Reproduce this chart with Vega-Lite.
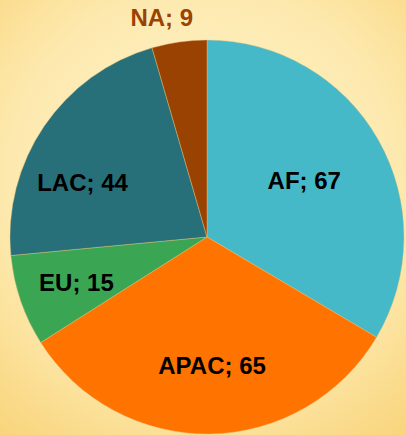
{
  "$schema": "https://vega.github.io/schema/vega-lite/v6.json",
  "width": 406,
  "height": 435,
  "autosize": {"type": "none"},
  "padding": 0,
  "background": "#FBE29F",
  "config": {
    "view": {"stroke": null},
    "text": {"font": "Liberation Sans", "fontWeight": "bold", "fontSize": 24}
  },
  "view": {
    "fill": {
      "gradient": "radial",
      "x1": 0.5, "y1": 0.42, "r1": 0,
      "x2": 0.5, "y2": 0.42, "r2": 0.75,
      "stops": [
        {"offset": 0, "color": "#FFF5D2"},
        {"offset": 0.6, "color": "#FDE9AE"},
        {"offset": 1, "color": "#F9D47A"}
      ]
    },
    "stroke": null
  },
  "data": {
    "values": [
      {"region": "AF", "value": 67, "label": "AF; 67"},
      {"region": "APAC", "value": 65, "label": "APAC; 65"},
      {"region": "EU", "value": 15, "label": "EU; 15"},
      {"region": "LAC", "value": 44, "label": "LAC; 44"},
      {"region": "NA", "value": 9, "label": "NA; 9"}
    ]
  },
  "encoding": {
    "theta": {"field": "value", "type": "quantitative", "stack": true},
    "order": {"field": "region", "type": "nominal"}
  },
  "layer": [
    {
      "mark": {"type": "arc", "x": 207, "y": 237, "outerRadius": 197, "stroke": "#E8C27A", "strokeWidth": 0.4},
      "encoding": {
        "color": {
          "field": "region", "type": "nominal",
          "scale": {"domain": ["AF", "APAC", "EU", "LAC", "NA"], "range": ["#45B9C7", "#FF7300", "#3AA654", "#277079", "#9A4202"]},
          "legend": null
        }
      }
    },
    {
      "mark": {"type": "text", "x": 207, "y": 237, "radius": 112, "color": "#000000"},
      "encoding": {"detail": {"field": "region"}, "text": {"condition": {"test": "datum.region === 'AF'", "field": "label"}, "value": ""}}
    },
    {
      "mark": {"type": "text", "x": 207, "y": 237, "radius": 130, "dx": 3, "color": "#000000"},
      "encoding": {"detail": {"field": "region"}, "text": {"condition": {"test": "datum.region === 'APAC'", "field": "label"}, "value": ""}}
    },
    {
      "mark": {"type": "text", "x": 207, "y": 237, "radius": 138, "dy": 2, "color": "#000000"},
      "encoding": {"detail": {"field": "region"}, "text": {"condition": {"test": "datum.region === 'EU'", "field": "label"}, "value": ""}}
    },
    {
      "mark": {"type": "text", "x": 207, "y": 237, "radius": 136, "dx": -12, "dy": 23, "color": "#000000"},
      "encoding": {"detail": {"field": "region"}, "text": {"condition": {"test": "datum.region === 'LAC'", "field": "label"}, "value": ""}}
    },
    {
      "mark": {"type": "text", "x": 207, "y": 237, "radius": 222, "dx": -14, "dy": 2, "color": "#9A4202"},
      "encoding": {"detail": {"field": "region"}, "text": {"condition": {"test": "datum.region === 'NA'", "field": "label"}, "value": ""}}
    }
  ]
}
